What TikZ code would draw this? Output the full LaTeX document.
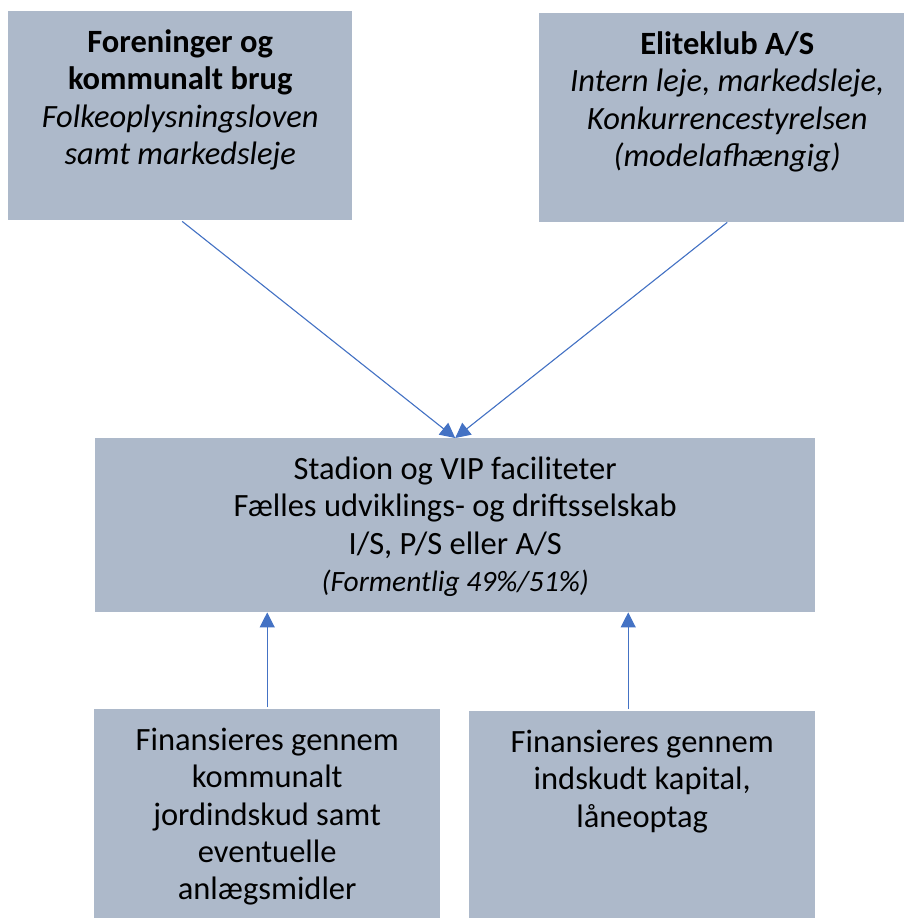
\documentclass[tikz,border=0pt]{standalone}
\usepackage{fontspec}
\setmainfont{Carlito}
\usetikzlibrary{arrows.meta}
\definecolor{panelfill}{HTML}{ADB9CA}
\definecolor{linkblue}{HTML}{4472C4}
\newcommand{\ptext}[3]{\parbox[c][#2pt][t]{#1pt}{\centering\rule{0pt}{41pt}#3}}
\tikzset{every picture/.append style={x=1pt,y=-1pt}}
\tikzset{every picture/.append style={>={Triangle[length=15pt,width=15pt]}}}
\tikzset{panel/.style={fill=panelfill,inner sep=0pt,anchor=north west,font=\fontsize{32.5}{37.4}\selectfont}}
\tikzset{link/.style={->,draw=linkblue,fill=linkblue,line width=1.1pt}}
\begin{document}
\begin{tikzpicture}
\useasboundingbox (0,0) rectangle (903,918);

\node[panel] (fore) at (8,11) {\ptext{344}{209}{\textbf{Foreninger og}\\\textbf{kommunalt brug}\\\textit{Folkeoplysningsloven}\\\textit{samt markedsleje}}};
\node[panel] (elite) at (539,13) {\ptext{376}{209}{\textbf{Eliteklub A/S}\\\textit{Intern leje, markedsleje,}\\\textit{Konkurrencestyrelsen}\\\textit{(modelafhængig)}}};

\node[panel] (stadion) at (95,438) {\ptext{720}{174}{Stadion og VIP faciliteter\\Fælles udviklings- og driftsselskab\\I/S, P/S eller A/S\\{\fontsize{29.5}{37.4}\selectfont\itshape(Formentlig 49\%/51\%)}}};

\node[panel] (fin1) at (94,709) {\ptext{346}{209}{Finansieres gennem\\kommunalt\\jordindskud samt\\eventuelle\\anlægsmidler}};
\node[panel] (fin2) at (469,711) {\ptext{346}{209}{Finansieres gennem\\indskudt kapital,\\låneoptag}};

\coordinate (foreout) at ([xshift=2pt,yshift=-1pt]fore.south);
\coordinate (fin2top) at ([xshift=-14pt,yshift=2pt]fin2.north);
\coordinate (fin1top) at ([yshift=2pt]fin1.north);

\draw[link] (foreout) -- (stadion.north);
\draw[link] (elite.south) -- (stadion.north);
\draw[link] (fin1top) -- (fin1top |- stadion.south);
\draw[link] (fin2top) -- (fin2top |- stadion.south);
\end{tikzpicture}
\end{document}
